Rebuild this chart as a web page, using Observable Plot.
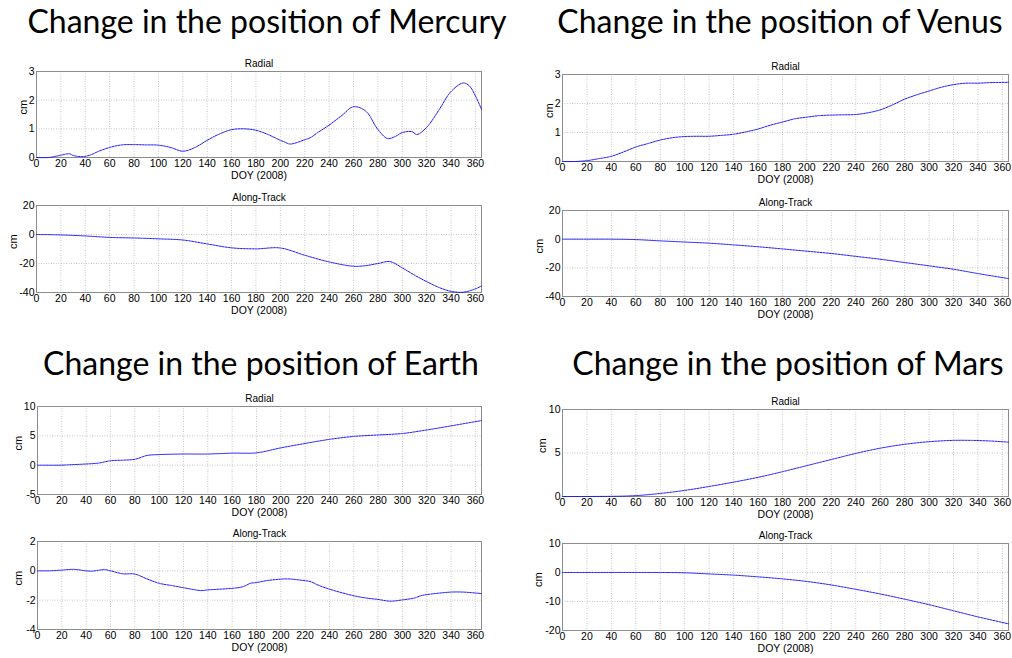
<!DOCTYPE html>
<html><head><meta charset="utf-8">
<script src="https://cdn.jsdelivr.net/npm/d3@7"></script>
<script src="https://cdn.jsdelivr.net/npm/@observablehq/plot@0.6"></script>
<style>
html,body{margin:0;padding:0;background:#fff;}
#page{position:relative;width:1012px;height:658px;overflow:hidden;font-family:"Liberation Sans",Arial,Helvetica,sans-serif;}
</style></head><body><div id="page"></div>
<script>
// ---------- data ----------
const planetTitles = ["Change in the position of Mercury","Change in the position of Venus","Change in the position of Earth","Change in the position of Mars"];
const xTicks = [0,20,40,60,80,100,120,140,160,180,200,220,240,260,280,300,320,340,360];

const mercuryRadialDay = [0,10,20,27,30,38,45,50,60,70,80,90,100,110,120,130,140,150,160,170,180,190,200,203,208,220,225,230,240,250,260,270,280,288,295,300,308,312,320,330,340,350,355,360,365];
const mercuryRadialCm  = [0,0,0.08,0.13,0.07,0.03,0.1,0.2,0.35,0.44,0.45,0.44,0.43,0.35,0.22,0.35,0.6,0.82,0.97,1.0,0.95,0.8,0.6,0.55,0.47,0.62,0.7,0.85,1.13,1.45,1.77,1.62,0.98,0.66,0.75,0.87,0.9,0.8,1.05,1.65,2.3,2.6,2.5,2.15,1.68];
const mercuryAlongDay  = [0,20,40,60,80,100,120,140,160,180,200,220,240,260,270,280,290,300,310,320,330,340,350,360,365];
const mercuryAlongCm   = [0,-0.3,-1,-2,-2.4,-3,-3.8,-6.5,-9.2,-9.9,-9.3,-14.3,-18.9,-21.9,-21.5,-20,-18.7,-23,-28,-32.5,-36.5,-39.2,-39.8,-37.5,-35.5];

const venusRadialDay = [0,10,20,30,40,50,60,70,80,90,100,110,120,130,140,150,160,170,180,190,200,210,220,230,240,250,260,270,280,290,300,310,320,330,340,350,365];
const venusRadialCm  = [0,0,0.03,0.1,0.18,0.33,0.5,0.62,0.74,0.82,0.86,0.87,0.87,0.9,0.94,1.02,1.12,1.25,1.36,1.47,1.53,1.58,1.6,1.61,1.62,1.68,1.78,1.95,2.15,2.3,2.43,2.56,2.65,2.7,2.7,2.72,2.73];
const venusAlongDay  = [0,20,40,60,80,100,120,140,160,180,200,220,240,260,280,300,320,340,365];
const venusAlongCm   = [0,0,0,-0.3,-1.2,-2,-2.8,-4,-5.3,-6.8,-8.4,-10,-12,-14,-16.3,-18.6,-21,-24,-27.5];

const earthRadialDay = [0,20,25,40,50,60,70,80,90,100,120,140,160,180,200,220,240,260,280,300,320,340,365];
const earthRadialCm  = [0,0,0.05,0.2,0.35,0.75,0.85,1.0,1.65,1.8,1.9,1.9,2.05,2.1,2.95,3.7,4.4,4.9,5.15,5.4,6.0,6.7,7.6];
const earthAlongDay  = [0,10,20,30,40,45,55,60,70,80,90,100,110,120,130,135,140,150,165,170,175,180,190,205,215,225,230,240,260,270,280,290,300,310,315,320,340,350,365];
const earthAlongCm   = [0,0,0.05,0.1,0,-0.02,0.08,0,-0.2,-0.22,-0.55,-0.85,-1.0,-1.15,-1.3,-1.35,-1.3,-1.25,-1.15,-1.05,-0.85,-0.8,-0.65,-0.55,-0.62,-0.75,-0.95,-1.25,-1.7,-1.85,-1.95,-2.07,-1.98,-1.85,-1.7,-1.62,-1.45,-1.45,-1.55];

const marsRadialDay = [0,40,60,80,100,120,140,160,180,200,220,240,260,280,300,320,335,350,365];
const marsRadialCm  = [0,0.02,0.1,0.35,0.7,1.15,1.65,2.2,2.85,3.55,4.25,4.95,5.55,6.0,6.3,6.45,6.45,6.38,6.25];
const marsAlongDay  = [0,80,100,120,140,160,180,200,220,240,260,280,300,320,340,365];
const marsAlongCm   = [0,0,-0.1,-0.5,-0.9,-1.5,-2.2,-3.1,-4.3,-5.8,-7.4,-9.2,-11.1,-13.2,-15.3,-17.7];

const subtitles = ["Radial","Along-Track"];
const xLabel = "DOY (2008)";
const yLabel = "cm";

// ---------- layout ----------
const panels = [
  {day: mercuryRadialDay, cm: mercuryRadialCm, sub: 0, yDomain:[0,3],    yTicks:[0,1,2,3],       left:0,   x0:36,  x1:481,  y0:71,  y1:157, cmX:23},
  {day: mercuryAlongDay,  cm: mercuryAlongCm,  sub: 1, yDomain:[-40,20], yTicks:[-40,-20,0,20],  left:0,   x0:36,  x1:481,  y0:205, y1:292, cmX:13},
  {day: venusRadialDay,   cm: venusRadialCm,   sub: 0, yDomain:[0,3],    yTicks:[0,1,2,3],       left:520, x0:562, x1:1008, y0:74,  y1:161, cmX:549},
  {day: venusAlongDay,    cm: venusAlongCm,    sub: 1, yDomain:[-40,20], yTicks:[-40,-20,0,20],  left:520, x0:562, x1:1008, y0:210, y1:296, cmX:539},
  {day: earthRadialDay,   cm: earthRadialCm,   sub: 0, yDomain:[-5,10],  yTicks:[-5,0,5,10],     left:0,   x0:37,  x1:481,  y0:406, y1:494, cmX:18},
  {day: earthAlongDay,    cm: earthAlongCm,    sub: 1, yDomain:[-4,2],   yTicks:[-4,-2,0,2],     left:0,   x0:37,  x1:481,  y0:541, y1:629, cmX:18},
  {day: marsRadialDay,    cm: marsRadialCm,    sub: 0, yDomain:[0,10],   yTicks:[0,5,10],        left:520, x0:562, x1:1008, y0:409, y1:496, cmX:542},
  {day: marsAlongDay,     cm: marsAlongCm,     sub: 1, yDomain:[-20,10], yTicks:[-20,-10,0,10],  left:520, x0:562, x1:1008, y0:543, y1:630, cmX:538}
];

const page = document.getElementById("page");
const MT = 16, MB = 28;
for (const p of panels) {
  const data = p.day.map((d, i) => ({day: d, cm: p.cm[i]}));
  const marginLeft = p.x0 - p.left;
  const marginRight = 3;
  const width = p.x1 - p.left + marginRight;
  const height = (p.y1 - p.y0) + MT + MB;
  const chart = Plot.plot({
    width, height, marginLeft, marginRight, marginTop: MT, marginBottom: MB,
    x: {domain: [0, 365]},
    y: {domain: p.yDomain},
    style: {position: "absolute", left: p.left + "px", top: (p.y0 - MT) + "px", background: "transparent", overflow: "visible", fontSize: "11px", fontFamily: '"Liberation Sans", Arial, Helvetica, sans-serif', color: "#000"},
    marks: [
      Plot.gridX(xTicks, {stroke: "#c8c8c8", strokeOpacity: 1, strokeDasharray: "1,1.5"}),
      Plot.gridY(p.yTicks, {stroke: "#c8c8c8", strokeOpacity: 1, strokeDasharray: "1,1.5"}),
      Plot.frame({stroke: "#8c8c8c"}),
      Plot.axisX(xTicks, {tickSize: 0, tickPadding: 2, label: null, fontSize: 10.5, tickFormat: d => String(d)}),
      Plot.axisY(p.yTicks, {tickSize: 0, tickPadding: 2, label: null, fontSize: 10.5, tickFormat: d => String(d)}),
      Plot.line(data, {x: "day", y: "cm", stroke: "#0000ff", strokeWidth: 0.9, strokeDasharray: "2,1", curve: "catmull-rom"}),
      Plot.text([subtitles[p.sub]], {frameAnchor: "top", dy: -12, fontSize: 10}),
      Plot.text([xLabel], {frameAnchor: "bottom", dy: 21, fontSize: 10.5}),
      Plot.text([yLabel], {frameAnchor: "left", dx: p.cmX - p.x0, rotate: -90, fontSize: 11})
    ]
  });
  page.appendChild(chart);
}

// titles
const ns = "http://www.w3.org/2000/svg";
const tsvg = document.createElementNS(ns, "svg");
tsvg.setAttribute("width", 1012); tsvg.setAttribute("height", 658);
tsvg.style.position = "absolute"; tsvg.style.left = "0"; tsvg.style.top = "0"; tsvg.style.pointerEvents = "none";
const titlePos = [[267, 33], [780, 33], [261, 375], [788, 375]];
planetTitles.forEach((t, i) => {
  const el = document.createElementNS(ns, "text");
  el.setAttribute("x", titlePos[i][0]); el.setAttribute("y", titlePos[i][1]);
  el.setAttribute("text-anchor", "middle");
  el.setAttribute("font-family", "Lato, 'Open Sans', sans-serif");
  el.setAttribute("font-size", 32);
  el.setAttribute("fill", "#000");
  el.textContent = t;
  tsvg.appendChild(el);
});
page.appendChild(tsvg);
</script></body></html>
